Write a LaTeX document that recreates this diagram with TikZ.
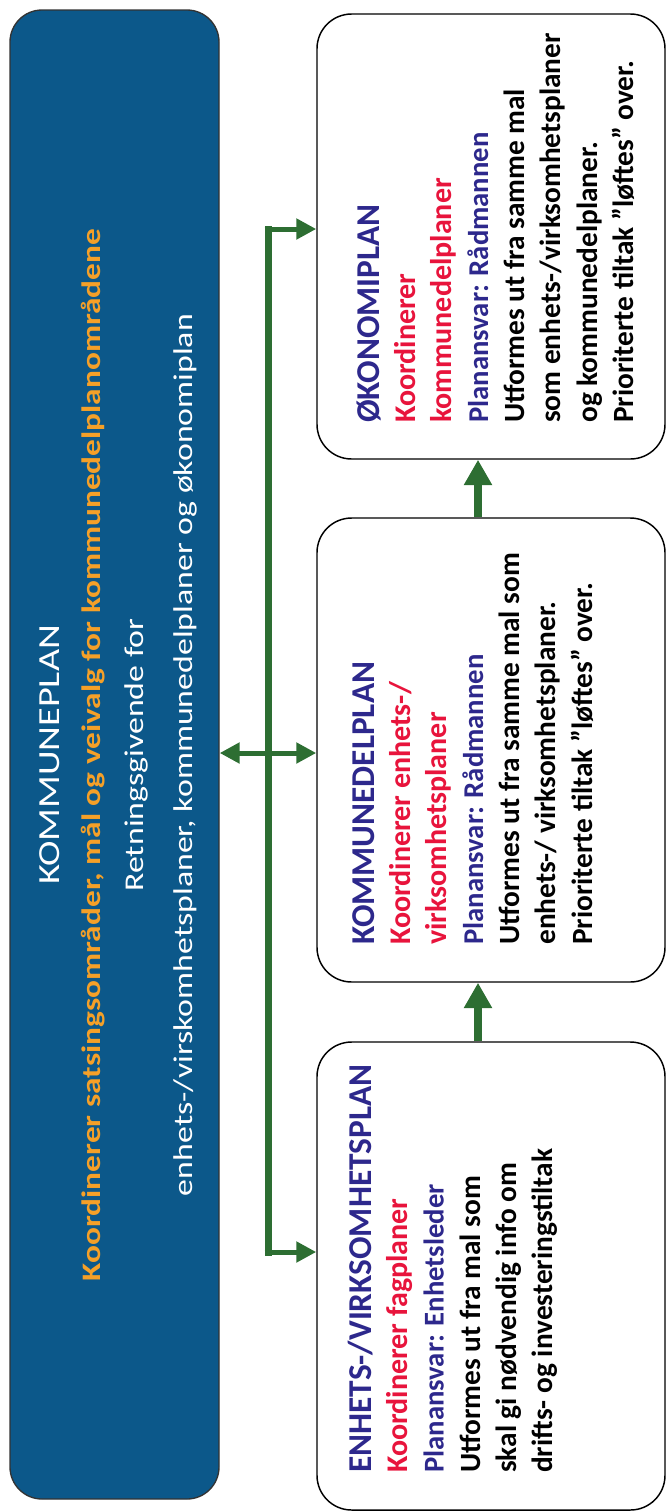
\documentclass[tikz,border=0pt]{standalone}
\usepackage{fontspec}
\setmainfont{Carlito}
\newfontfamily\widefont[FakeStretch=1.25]{Carlito}
\usetikzlibrary{arrows.meta}
\definecolor{kblue}{RGB}{12,88,138}
\definecolor{korange}{RGB}{245,160,40}
\definecolor{knavy}{RGB}{45,40,140}
\definecolor{kred}{RGB}{232,20,60}
\definecolor{kgreen}{RGB}{45,110,50}
\newcommand\hd[1]{{\fontsize{25}{27.25}\selectfont\textcolor{knavy}{#1}}}
\newcommand\rd[1]{{\fontsize{22.5}{27.25}\selectfont\textcolor{kred}{#1}}}
\newcommand\pa[1]{{\fontsize{21.5}{27.25}\selectfont\textcolor{knavy}{#1}}}
\begin{document}
\begin{tikzpicture}[x=0.75pt,y=-0.75pt,
  pbox/.style={draw=black, line width=1.1pt, rounded corners=26pt, fill=white, minimum width=261pt, inner sep=0pt},
  boxtxt/.style={rotate=90, anchor=base west, inner sep=0pt, font=\fontsize{22}{27.25}\selectfont\bfseries},
  bluetxt/.style={rotate=90, anchor=base, inner sep=0pt, text=white},
  gline/.style={draw=kgreen, line width=5.25pt},
  uparr/.style={draw=kgreen, line width=6pt, -{Triangle[length=19pt,width=20pt]}},
  harr/.style={draw=kgreen, line width=3.75pt, -{Triangle[length=15pt,width=15pt]}},
  darr/.style={draw=kgreen, line width=3.75pt, {Triangle[length=15pt,width=15pt]}-{Triangle[length=15pt,width=15pt]}}
]
\useasboundingbox (0,0) rectangle (666,1511);

% main blue box
\node[draw=black!80, line width=1pt, fill=kblue, rounded corners=24pt, minimum width=156.75pt, minimum height=1116.75pt, inner sep=0pt] (kp) at (114.5,754.5) {};
\node[bluetxt, font=\widefont\fontsize{23}{28}\selectfont] (kp1) at (59,755) {KOMMUNEPLAN};
\node[bluetxt, text=korange, font=\widefont\fontsize{20}{26}\selectfont\bfseries] (kp2) at (100,755) {Koordinerer satsingsområder, mål og veivalg for kommunedelplanområdene};
\node[bluetxt, font=\widefont\fontsize{20.3}{26}\selectfont] (kp3) at (143,755) {Retningsgivende for};
\node[bluetxt, font=\widefont\fontsize{20.3}{26}\selectfont] (kp4) at (192,755) {enhets-/virskomhetsplaner, kommunedelplaner og økonomiplan};

% right boxes
\node[pbox, minimum height=333.75pt] (ok) at (491,236.5) {};
\node[pbox, minimum height=348pt] (kd) at (491,750) {};
\node[pbox, minimum height=351pt] (en) at (491,1276) {};

\node[boxtxt] (okt) at (379,423) {\vtop{%
  \hbox{\hd{ØKONOMIPLAN}}
  \hbox{\rd{Koordinerer}}
  \hbox{\rd{kommunedelplaner}}
  \hbox{\pa{Planansvar: Rådmannen}}
  \hbox{Utformes ut fra samme mal}
  \hbox{som enhets-/virksomhetsplaner}
  \hbox{og kommunedelplaner.}
  \hbox{Prioriterte tiltak ”løftes” over.}}};

\node[boxtxt] (kdt) at (374,945) {\vtop{%
  \hbox{\hd{KOMMUNEDELPLAN}}
  \hbox{\rd{Koordinerer enhets-/}}
  \hbox{\rd{virksomhetsplaner}}
  \hbox{\pa{Planansvar: Rådmannen}}
  \hbox{Utformes ut fra samme mal som}
  \hbox{enhets-/ virksomhetsplaner.}
  \hbox{Prioriterte tiltak ”løftes” over.}}};

\node[boxtxt] (ent) at (371,1473) {\vtop{%
  \hbox{\hd{ENHETS-/VIRKSOMHETSPLAN}}
  \hbox{\rd{Koordinerer fagplaner}}
  \hbox{\pa{Planansvar: Enhetsleder}}
  \hbox{Utformes ut fra mal som}
  \hbox{skal gi nødvendig info om}
  \hbox{drifts- og investeringstiltak}}};

% connectors
\coordinate (ax) at (478,0);
\draw[uparr] (en.north -| ax) -- (kd.south -| ax);
\draw[uparr] (kd.north -| ax) -- (ok.south -| ax);

\coordinate (bt) at (268,229);
\coordinate (bb) at (268,1252);
\coordinate (bm) at (268,753);
\draw[gline, line cap=rect] (bt) -- (bb);
\draw[harr] ([xshift=-2.6pt]bt) -- (ok.west |- bt);
\draw[harr] ([xshift=-2.6pt]bb) -- (en.west |- bb);
\draw[darr] (kp.east |- bm) -- (kd.west |- bm);
\end{tikzpicture}
\end{document}
